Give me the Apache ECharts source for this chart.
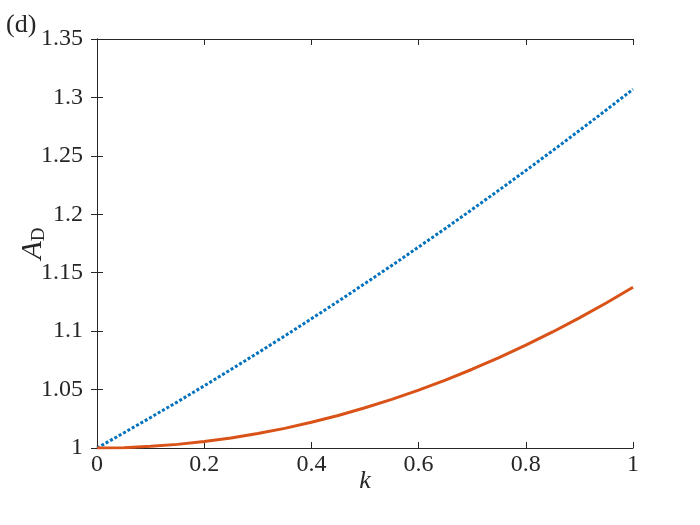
<!DOCTYPE html>
<html><head><meta charset="utf-8">
<script src="https://cdn.jsdelivr.net/npm/echarts@6/dist/echarts.min.js"></script>
<style>html,body{margin:0;padding:0;background:#fff}#c{width:700px;height:525px}</style>
</head><body><div id="c"></div>
<script>
const kValues = [0, 0.05, 0.1, 0.15, 0.2, 0.25, 0.3, 0.35, 0.4, 0.45, 0.5, 0.55, 0.6, 0.65, 0.7, 0.75, 0.8, 0.85, 0.9, 0.95, 1];
const blueValues = [1.0000, 1.0129, 1.0261, 1.0395, 1.0532, 1.0672, 1.0814, 1.0958, 1.1106, 1.1255, 1.1408, 1.1562, 1.1720, 1.1879, 1.2042, 1.2207, 1.2374, 1.2544, 1.2717, 1.2892, 1.3070];
const orangeValues = [1.0000, 1.0003, 1.0014, 1.0031, 1.0055, 1.0086, 1.0124, 1.0168, 1.0220, 1.0278, 1.0344, 1.0416, 1.0495, 1.0581, 1.0674, 1.0773, 1.0880, 1.0993, 1.1114, 1.1241, 1.1375];
const xTickLabels = ['0', '0.2', '0.4', '0.6', '0.8', '1'];
const yTickLabels = ['1', '1.05', '1.1', '1.15', '1.2', '1.25', '1.3', '1.35'];

const font = 'Liberation Serif';
const txt = '#262626';
const chart = echarts.init(document.getElementById('c'), null, {renderer: 'canvas'});
const axisLine = {show: true, lineStyle: {color: txt, width: 1}};
const tick = {show: true, inside: true, length: 6, lineStyle: {color: txt, width: 1}};
chart.setOption({
  animation: false,
  backgroundColor: '#fff',
  title: {text: '(d)', left: 1, top: 7, textStyle: {fontFamily: font, fontSize: 26, fontWeight: 'normal', color: txt}},
  grid: {left: 97, top: 39, right: 67, bottom: 77, containLabel: false},
  xAxis: [{
    type: 'value', min: 0, max: 1, interval: 0.2,
    axisLine, axisTick: tick, splitLine: {show: false},
    axisLabel: {fontFamily: font, fontSize: 24, color: txt, margin: 5,
      formatter: v => xTickLabels[Math.round(v / 0.2)]},
    name: 'k', nameLocation: 'middle', nameGap: 20, nameMoveOverlap: false,
    nameTextStyle: {fontFamily: font, fontSize: 26, fontStyle: 'italic', color: txt}
  }, {
    type: 'value', min: 0, max: 1, interval: 0.2, position: 'top',
    axisLine, axisTick: tick, axisLabel: {show: false}, splitLine: {show: false}
  }],
  yAxis: [{
    type: 'value', min: 1, max: 1.35, interval: 0.05,
    axisLine, axisTick: tick, splitLine: {show: false},
    axisLabel: {fontFamily: font, fontSize: 24, color: txt, margin: 14,
      formatter: v => yTickLabels[Math.round((v - 1) / 0.05)]},
    name: '{a|A}{d|D}', nameLocation: 'middle', nameGap: 48, nameRotate: 90, nameMoveOverlap: false,
    nameTextStyle: {
      rich: {
        a: {fontFamily: font, fontSize: 30, fontStyle: 'italic', color: txt},
        d: {fontFamily: font, fontSize: 19, color: txt, padding: [12, 0, 0, 0]}
      }
    }
  }, {
    type: 'value', min: 1, max: 1.35, interval: 0.05, position: 'right',
    axisLine, axisTick: tick, axisLabel: {show: false}, splitLine: {show: false}
  }],
  series: [{
    type: 'line', showSymbol: false, symbol: 'none',
    data: kValues.map((k, i) => [k, blueValues[i]]),
    lineStyle: {color: '#0072BD', width: 3, type: [3, 2]}
  }, {
    type: 'line', showSymbol: false, symbol: 'none',
    data: kValues.map((k, i) => [k, orangeValues[i]]),
    lineStyle: {color: '#D95319', width: 3, type: 'solid'}
  }]
});
</script></body></html>
